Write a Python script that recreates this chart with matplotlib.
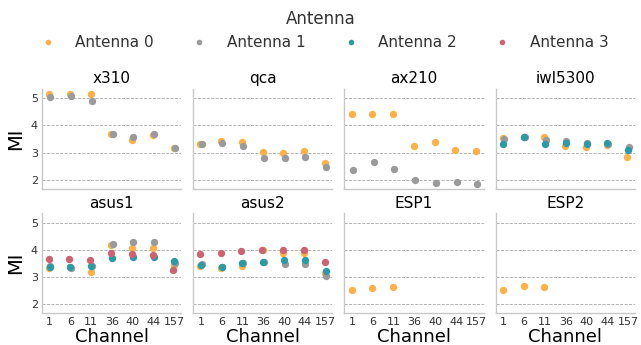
import numpy as np
import matplotlib
matplotlib.use("Agg")
import matplotlib.pyplot as plt
from matplotlib.lines import Line2D

channels = ["1", "6", "11", "36", "40", "44", "157"]
antennas = ["Antenna 0", "Antenna 1", "Antenna 2", "Antenna 3"]
colors = ["#fdb147", "#9a9a9a", "#2a9aa5", "#cd6370"]
devices = ["x310", "qca", "ax210", "iwl5300", "asus1", "asus2", "ESP1", "ESP2"]

# MI per device, per antenna (None = antenna not present), per channel (NaN = missing)
nan = np.nan
x310 = [[5.14, 5.15, 5.15, 3.68, 3.48, 3.66, 3.17],
        [5.06, 5.10, 4.89, 3.69, 3.59, 3.67, 3.16],
        None, None]
qca = [[3.33, 3.41, 3.38, 3.04, 2.98, 3.07, 2.62],
       [3.33, 3.36, 3.26, 2.81, 2.81, 2.85, 2.48],
       None, None]
ax210 = [[4.42, 4.41, 4.41, 3.23, 3.40, 3.09, 3.06],
         [2.37, 2.65, 2.40, 2.00, 1.88, 1.93, 1.83],
         None, None]
iwl5300 = [[3.52, 3.57, 3.57, 3.26, 3.22, 3.28, 2.85],
           [3.50, 3.56, 3.48, 3.42, 3.35, 3.33, 3.19],
           [3.32, 3.56, 3.31, 3.35, 3.33, 3.35, 3.10],
           None]
asus1 = [[3.33, 3.36, 3.17, 4.16, 4.07, 4.07, 3.46],
         [3.41, 3.35, 3.42, 4.22, 4.27, 4.30, 3.52],
         [3.38, 3.36, 3.40, 3.69, 3.75, 3.75, 3.58],
         [3.68, 3.65, 3.63, 3.89, 3.85, 3.80, 3.27]]
asus2 = [[3.40, 3.35, 3.40, 4.00, 3.88, 3.90, 3.15],
         [3.47, 3.37, 3.52, 3.56, 3.49, 3.49, 3.04],
         [3.45, 3.36, 3.50, 3.56, 3.62, 3.62, 3.22],
         [3.86, 3.89, 3.96, 3.99, 4.00, 4.00, 3.54]]
esp1 = [[2.53, 2.59, 2.64, nan, nan, nan, nan], None, None, None]
esp2 = [[2.53, 2.68, 2.63, nan, nan, nan, nan], None, None, None]
data = [x310, qca, ax210, iwl5300, asus1, asus2, esp1, esp2]

offsets = [-0.03, 0.03, 0.0, -0.05]

fig, axes = plt.subplots(2, 4, figsize=(6.41, 3.45), dpi=100, sharex=True, sharey=True)
fig.subplots_adjust(left=0.0655, right=0.9906, top=0.742, bottom=0.093,
                    wspace=0.086, hspace=0.25)

xpos = np.arange(len(channels))
for ax, name, dev in zip(axes.flat, devices, data):
    for k, vals in enumerate(dev):
        if vals is None:
            continue
        ax.scatter(xpos + offsets[k], vals, s=28, color=colors[k],
                   linewidths=0, zorder=3)
    ax.set_title(name, fontsize=11, pad=4)
    ax.yaxis.grid(True, linestyle="--", color="#aaaaaa", linewidth=0.6)
    ax.set_axisbelow(True)
    for s in ["top", "right"]:
        ax.spines[s].set_visible(False)
    for s in ["left", "bottom"]:
        ax.spines[s].set_color("#c8c8c8")
        ax.spines[s].set_linewidth(1.0)
    ax.tick_params(length=0, labelsize=8, labelcolor="#333333", pad=3)

axes[0, 0].set_ylim(1.68, 5.34)
axes[0, 0].set_yticks([2, 3, 4, 5])
axes[0, 0].set_xlim(-0.37, 6.33)
axes[0, 0].set_xticks(xpos)
axes[1, 0].set_xticklabels(channels)
for ax in axes[1]:
    ax.set_xlabel("Channel", fontsize=13, labelpad=1)
for ax in axes[:, 0]:
    ax.set_ylabel("MI", fontsize=14, labelpad=4)

handles = [Line2D([], [], marker="o", linestyle="", markersize=4,
                  markerfacecolor=c, markeredgewidth=0) for c in colors]
leg = fig.legend(handles, antennas, loc="upper center", bbox_to_anchor=(0.5, 1.012),
                 ncol=4, frameon=False, title="Antenna", fontsize=11,
                 title_fontsize=12, columnspacing=2.0, handletextpad=0.77)
for t in leg.get_texts():
    t.set_color("#333333")
leg.get_title().set_color("#333333")

fig.savefig("out.png", dpi=100)
